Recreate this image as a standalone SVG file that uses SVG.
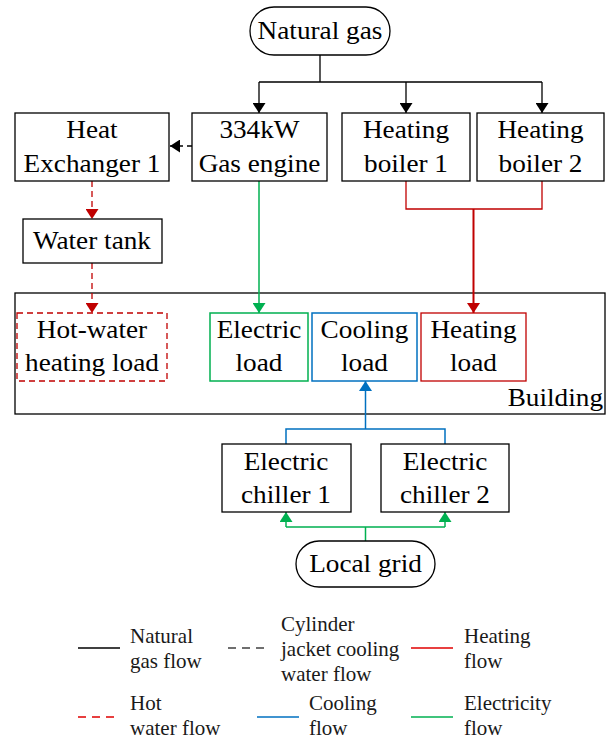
<svg xmlns="http://www.w3.org/2000/svg" width="609" height="740" viewBox="0 0 609 740">
<defs>
<style>
text{font-family:"Liberation Serif","Times New Roman",serif;font-size:25px;fill:#000;text-anchor:middle;transform-box:fill-box;transform-origin:center;transform:scaleX(1.09)}
.lg{font-size:21px;text-anchor:start;fill:#1a1a1a;transform:none}
.box{fill:#fff;stroke:#000;stroke-width:1.3}
.k{fill:none;stroke:#000;stroke-width:1.3}
.kd{fill:none;stroke:#000;stroke-width:1.3;stroke-dasharray:5,4}
.r{fill:none;stroke:#c00000;stroke-width:1.3}
.rt{fill:none;stroke:#c00000;stroke-width:2}
.rd{fill:none;stroke:#c00000;stroke-width:1.3;stroke-dasharray:6,4}
.g{fill:none;stroke:#00b050;stroke-width:1.5}
.b{fill:none;stroke:#0070c0;stroke-width:1.5}
</style>
<marker id="ak" markerUnits="userSpaceOnUse" markerWidth="13" markerHeight="13" viewBox="0 0 10 13" refX="10" refY="6.5" orient="auto"><path d="M0,0 L10,6.5 L0,13 Z" fill="#000"/></marker>
<marker id="ar" markerUnits="userSpaceOnUse" markerWidth="13" markerHeight="13" viewBox="0 0 10 13" refX="10" refY="6.5" orient="auto"><path d="M0,0 L10,6.5 L0,13 Z" fill="#c00000"/></marker>
<marker id="ag" markerUnits="userSpaceOnUse" markerWidth="13" markerHeight="13" viewBox="0 0 10 13" refX="10" refY="6.5" orient="auto"><path d="M0,0 L10,6.5 L0,13 Z" fill="#00b050"/></marker>
<marker id="ab" markerUnits="userSpaceOnUse" markerWidth="13" markerHeight="13" viewBox="0 0 10 13" refX="10" refY="6.5" orient="auto"><path d="M0,0 L10,6.5 L0,13 Z" fill="#0070c0"/></marker>
</defs>
<rect width="609" height="740" fill="#fff"/>

<g id="building"><rect x="15" y="293" width="590" height="121" class="box"/><text x="603" y="406" style="text-anchor:end;transform-origin:right center">Building</text></g>

<g id="connectors">
<path d="M320,55 V82 M259,82 H542" class="k"/>
<path d="M259,82 V113" class="k" marker-end="url(#ak)"/>
<path d="M406,82 V113" class="k" marker-end="url(#ak)"/>
<path d="M542,82 V113" class="k" marker-end="url(#ak)"/>
<path d="M192,146 H170" class="kd" marker-end="url(#ak)"/>
<path d="M406,181 V209 H542 V181" class="r"/>
<path d="M473.5,209 V313" class="rt" marker-end="url(#ar)"/>
<path d="M92,181 V219" class="rd" marker-end="url(#ar)"/>
<path d="M92,263 V313" class="rd" marker-end="url(#ar)"/>
<path d="M259,181 V313" class="g" marker-end="url(#ag)"/>
<path d="M365.5,429 V381" class="b" marker-end="url(#ab)"/>
<path d="M286,444 V429 H445 V444" class="b"/>
<path d="M365.5,541 V527 M286,527 H445" class="g"/>
<path d="M286,527 V512" class="g" marker-end="url(#ag)"/>
<path d="M445,527 V512" class="g" marker-end="url(#ag)"/>
</g>

<g id="natural-gas"><rect x="250" y="7" width="140" height="48" rx="24" class="box"/><text x="320" y="39">Natural gas</text></g>
<g id="heat-exchanger"><rect x="15" y="113" width="154" height="68" class="box"/><text x="92" y="138">Heat</text><text x="92" y="172">Exchanger 1</text></g>
<g id="gas-engine"><rect x="192" y="113" width="135" height="68" class="box"/><text x="259.5" y="138">334kW</text><text x="259.5" y="172">Gas engine</text></g>
<g id="boiler1"><rect x="342" y="113" width="128" height="68" class="box"/><text x="406" y="138">Heating</text><text x="406" y="172">boiler 1</text></g>
<g id="boiler2"><rect x="477" y="113" width="127" height="68" class="box"/><text x="540.5" y="138">Heating</text><text x="540.5" y="172">boiler 2</text></g>
<g id="water-tank"><rect x="23" y="219" width="139" height="44" class="box"/><text x="92" y="249">Water tank</text></g>
<g id="hot-water-load"><rect x="17" y="313" width="150" height="68" fill="#fff" class="rd"/><text x="92" y="338">Hot-water</text><text x="92" y="371">heating load</text></g>
<g id="electric-load"><rect x="210" y="313" width="98" height="68" fill="#fff" class="g"/><text x="259" y="338">Electric</text><text x="259" y="371">load</text></g>
<g id="cooling-load"><rect x="312" y="313" width="105" height="68" fill="#fff" class="b"/><text x="364.5" y="338">Cooling</text><text x="364.5" y="371">load</text></g>
<g id="heating-load"><rect x="421" y="313" width="105" height="68" fill="#fff" class="r"/><text x="473.5" y="338">Heating</text><text x="473.5" y="371">load</text></g>
<g id="chiller1"><rect x="222" y="444" width="129" height="68" class="box"/><text x="286" y="470">Electric</text><text x="286" y="503">chiller 1</text></g>
<g id="chiller2"><rect x="381" y="444" width="128" height="68" class="box"/><text x="445" y="470">Electric</text><text x="445" y="503">chiller 2</text></g>
<g id="local-grid"><rect x="296" y="541" width="139" height="46" rx="23" class="box"/><text x="365.5" y="572">Local grid</text></g>

<g id="legend">
<path d="M78,648 H120" stroke="#000" stroke-width="1.5"/>
<text class="lg" x="130" y="643">Natural</text><text class="lg" x="130" y="668">gas flow</text>
<path d="M228,648 H270" stroke="#404040" stroke-width="1.5" stroke-dasharray="8,6"/>
<text class="lg" x="281" y="631">Cylinder</text><text class="lg" x="281" y="656">jacket cooling</text><text class="lg" x="281" y="681">water flow</text>
<path d="M411,648 H453" stroke="#e00000" stroke-width="1.5"/>
<text class="lg" x="464" y="643">Heating</text><text class="lg" x="464" y="668">flow</text>
<path d="M78,717 H120" stroke="#e00000" stroke-width="1.5" stroke-dasharray="8,6"/>
<text class="lg" x="130" y="710">Hot</text><text class="lg" x="130" y="735">water flow</text>
<path d="M257,717 H299" stroke="#0070c0" stroke-width="1.5"/>
<text class="lg" x="309" y="710">Cooling</text><text class="lg" x="309" y="735">flow</text>
<path d="M411,717 H453" stroke="#00b050" stroke-width="1.5"/>
<text class="lg" x="464" y="710">Electricity</text><text class="lg" x="464" y="735">flow</text>
</g>
</svg>
